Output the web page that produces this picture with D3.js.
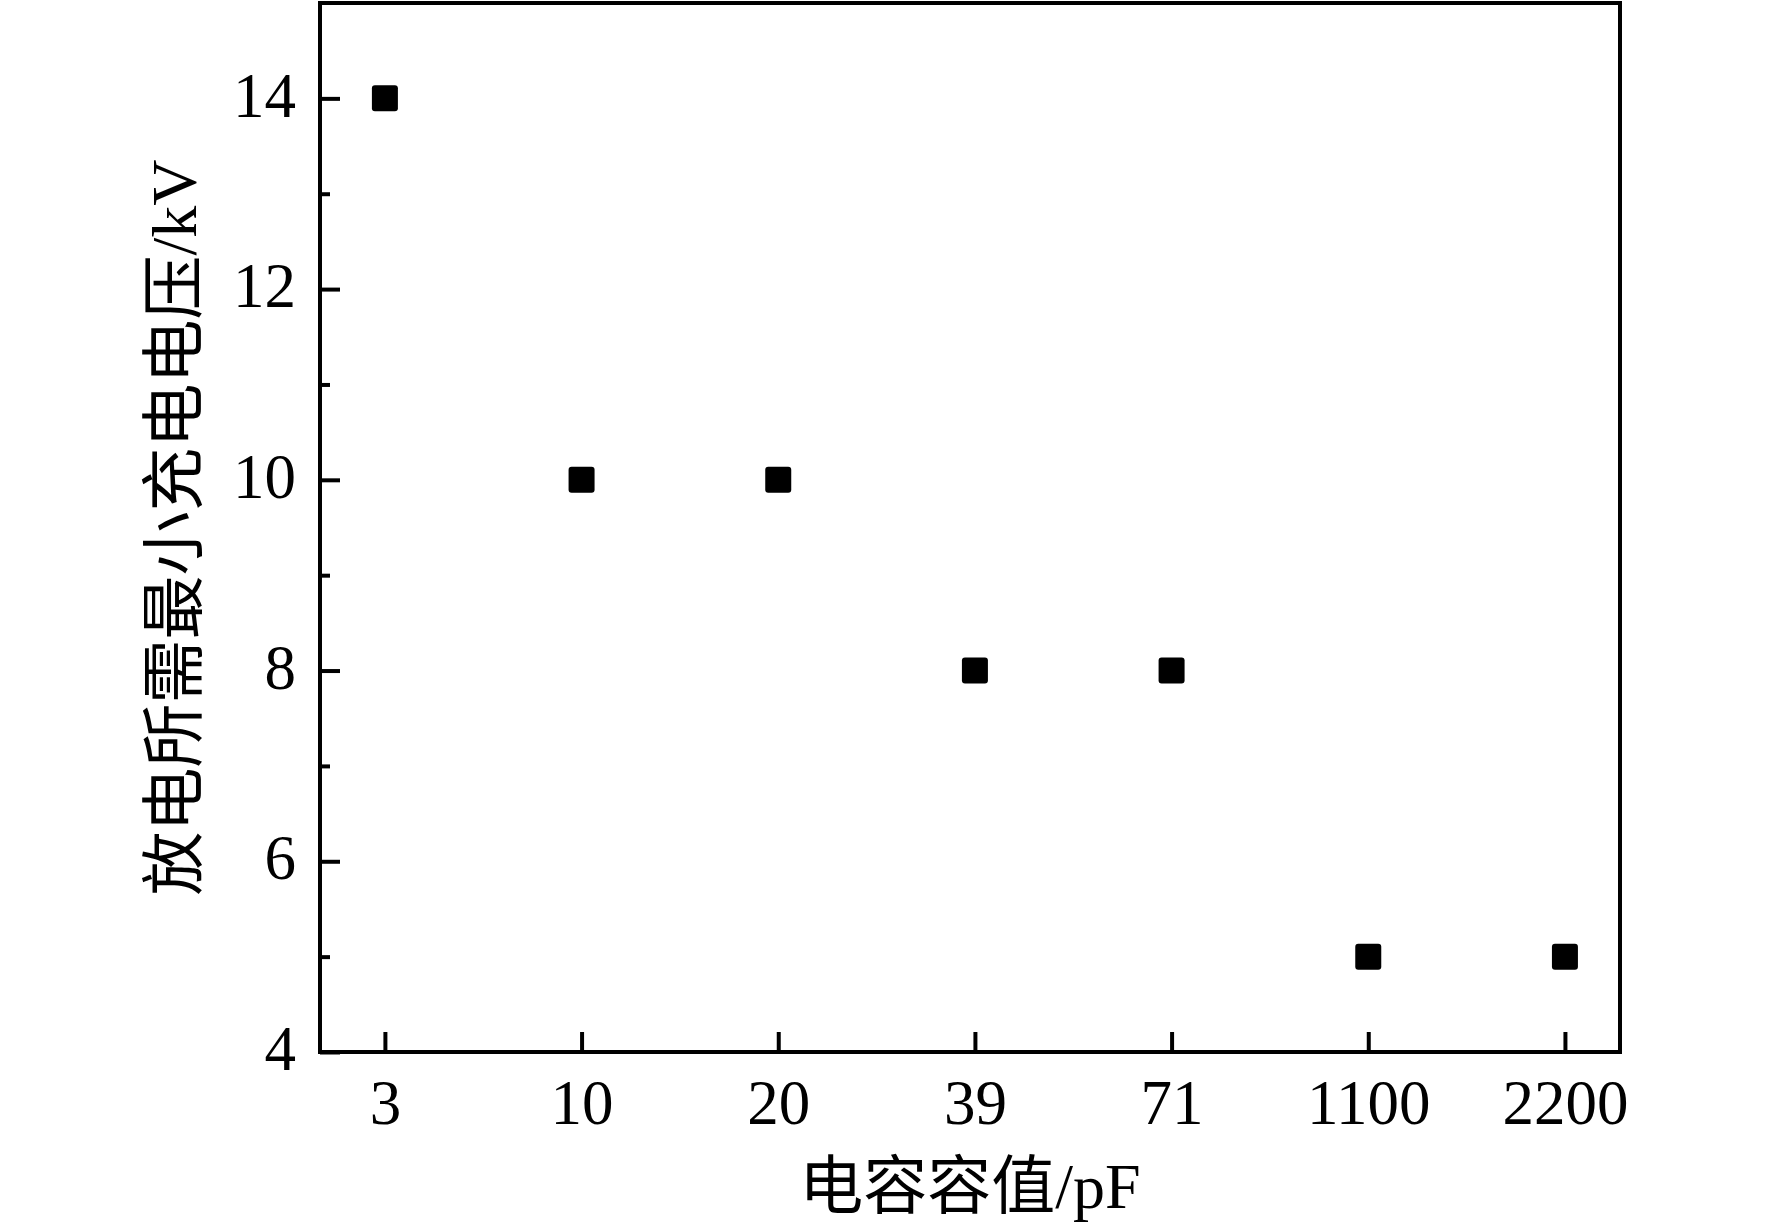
<!DOCTYPE html>
<html>
<head>
<meta charset="utf-8">
<script src="https://cdn.jsdelivr.net/npm/d3@7"></script>
<style>
  html, body { margin: 0; padding: 0; background: #fff; }
  svg { display: block; }
  text { font-family: "Liberation Serif", "Times New Roman", Times, "Noto Sans CJK SC", serif; fill: #000; }
</style>
</head>
<body>
<svg id="chart" width="1772" height="1228"></svg>
<script>
const categories = ["3", "10", "20", "39", "71", "1100", "2200"];
const voltages = [14, 10, 10, 8, 8, 5, 5];
const yTicks = [4, 6, 8, 10, 12, 14];
const yMinorTicks = [5, 7, 9, 11, 13];

const margin = { top: 3, right: 152, bottom: 176, left: 320 };
const width = 1772 - margin.left - margin.right;
const height = 1228 - margin.top - margin.bottom;

const svg = d3.select("#chart");
const g = svg.append("g")
    .attr("transform", `translate(${margin.left}, ${margin.top})`);

// categories are evenly spaced; pad the ends a bit like the original
const xScale = d3.scaleLinear()
    .domain([-0.33, categories.length - 1 + 0.28])
    .range([0, width]);

const yScale = d3.scaleLinear()
    .domain([4, 15])
    .range([height, 0]);

const axisStroke = 4;

// frame
g.append("rect")
    .attr("x", 0)
    .attr("y", 0)
    .attr("width", width)
    .attr("height", height)
    .attr("fill", "none")
    .attr("stroke", "#000")
    .attr("stroke-width", axisStroke);

// y axis, ticks inside
const yAxis = g.append("g")
    .call(d3.axisLeft(yScale).tickValues(yTicks).tickSize(-20).tickPadding(24).tickFormat(d3.format("d")));
yAxis.select(".domain").remove();
yAxis.selectAll("line").attr("stroke-width", axisStroke);
yAxis.selectAll("text")
    .style("font-size", "63px")
    .attr("dy", "0.28em");

const yMinor = g.append("g")
    .call(d3.axisLeft(yScale).tickValues(yMinorTicks).tickSize(-10).tickFormat(""));
yMinor.select(".domain").remove();
yMinor.selectAll("line").attr("stroke-width", axisStroke);

// x axis, ticks inside
const xAxis = g.append("g")
    .attr("transform", `translate(0, ${height})`)
    .call(d3.axisBottom(xScale)
        .tickValues(d3.range(categories.length))
        .tickSize(-20)
        .tickPadding(28)
        .tickFormat(i => categories[i]));
xAxis.select(".domain").remove();
xAxis.selectAll("line").attr("stroke-width", axisStroke);
xAxis.selectAll("text")
    .style("font-size", "63px")
    .attr("dy", "0.7em");

// markers
const size = 26;
g.selectAll(".pt")
    .data(voltages)
    .enter()
    .append("rect")
    .attr("class", "pt")
    .attr("x", (d, i) => xScale(i) - size / 2)
    .attr("y", d => yScale(d) - size / 2)
    .attr("width", size)
    .attr("height", size)
    .attr("rx", 3)
    .attr("fill", "#000");

// axis titles
svg.append("text")
    .attr("x", margin.left + width / 2)
    .attr("y", 1208)
    .attr("text-anchor", "middle")
    .style("font-size", "64px")
    .text("电容容值/pF");

svg.append("text")
    .attr("transform", `translate(196, ${margin.top + height / 2}) rotate(-90)`)
    .attr("text-anchor", "middle")
    .style("font-size", "64px")
    .text("放电所需最小充电电压/kV");
</script>
</body>
</html>
